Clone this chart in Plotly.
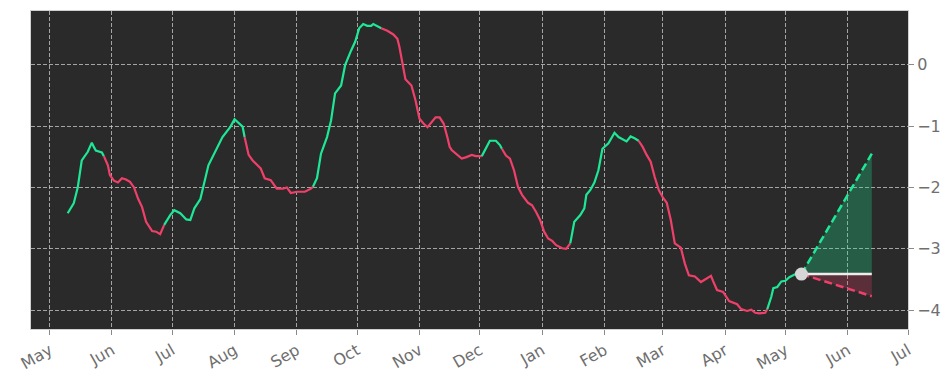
import plotly.graph_objects as go
import pandas as pd

# ---- data ----
dates = [
    "2023-05-10", "2023-05-13", "2023-05-15", "2023-05-17", "2023-05-20", "2023-05-22", "2023-05-23",
    "2023-05-24", "2023-05-27", "2023-05-28", "2023-05-30", "2023-05-31", "2023-06-02", "2023-06-04",
    "2023-06-06", "2023-06-08", "2023-06-10", "2023-06-12", "2023-06-14", "2023-06-16", "2023-06-18",
    "2023-06-21", "2023-06-23", "2023-06-25", "2023-06-27", "2023-06-30", "2023-07-02", "2023-07-05",
    "2023-07-08", "2023-07-10", "2023-07-12", "2023-07-15", "2023-07-19", "2023-07-23", "2023-07-26",
    "2023-07-30", "2023-08-01", "2023-08-05", "2023-08-06", "2023-08-08", "2023-08-10", "2023-08-14",
    "2023-08-16", "2023-08-19", "2023-08-22", "2023-08-25", "2023-08-27", "2023-08-29", "2023-09-01",
    "2023-09-05", "2023-09-08", "2023-09-09", "2023-09-11", "2023-09-13", "2023-09-16", "2023-09-18",
    "2023-09-20", "2023-09-23", "2023-09-25", "2023-09-28", "2023-09-30", "2023-10-02", "2023-10-04",
    "2023-10-06", "2023-10-08", "2023-10-09", "2023-10-11", "2023-10-13", "2023-10-16", "2023-10-19",
    "2023-10-21", "2023-10-22", "2023-10-24", "2023-10-25", "2023-10-28", "2023-10-30", "2023-11-01",
    "2023-11-03", "2023-11-05", "2023-11-07", "2023-11-09", "2023-11-11", "2023-11-13", "2023-11-15",
    "2023-11-16", "2023-11-17", "2023-11-20", "2023-11-22", "2023-11-24", "2023-11-27", "2023-11-29",
    "2023-11-30", "2023-12-02", "2023-12-04", "2023-12-06", "2023-12-09", "2023-12-11", "2023-12-12",
    "2023-12-14", "2023-12-16", "2023-12-18", "2023-12-20", "2023-12-22", "2023-12-25", "2023-12-27",
    "2023-12-29", "2023-12-31", "2024-01-02", "2024-01-04", "2024-01-06", "2024-01-08", "2024-01-11",
    "2024-01-13", "2024-01-15", "2024-01-17", "2024-01-20", "2024-01-22", "2024-01-23", "2024-01-25",
    "2024-01-27", "2024-01-29", "2024-01-31", "2024-02-02", "2024-02-03", "2024-02-06", "2024-02-08",
    "2024-02-12", "2024-02-14", "2024-02-16", "2024-02-18", "2024-02-20", "2024-02-22", "2024-02-24",
    "2024-02-26", "2024-02-28", "2024-03-01", "2024-03-03", "2024-03-05", "2024-03-07", "2024-03-10",
    "2024-03-12", "2024-03-14", "2024-03-17", "2024-03-20", "2024-03-22", "2024-03-25", "2024-03-26",
    "2024-03-28", "2024-03-31", "2024-04-03", "2024-04-07", "2024-04-09", "2024-04-12", "2024-04-14",
    "2024-04-16", "2024-04-18", "2024-04-21", "2024-04-22", "2024-04-24", "2024-04-25", "2024-04-27",
    "2024-04-29", "2024-05-01", "2024-05-03", "2024-05-06", "2024-05-09",
]
values = [
    -2.42, -2.26, -2.00, -1.56, -1.42, -1.27, -1.34,
    -1.40, -1.43, -1.49, -1.64, -1.80, -1.89, -1.92,
    -1.85, -1.87, -1.91, -2.00, -2.18, -2.32, -2.56,
    -2.71, -2.72, -2.76, -2.61, -2.45, -2.37, -2.42,
    -2.52, -2.53, -2.34, -2.19, -1.64, -1.37, -1.18,
    -1.01, -0.89, -1.01, -1.18, -1.47, -1.56, -1.69,
    -1.85, -1.88, -2.02, -2.02, -2.00, -2.09, -2.07,
    -2.07, -2.02, -1.99, -1.85, -1.45, -1.18, -0.91,
    -0.47, -0.34, -0.01, 0.23, 0.37, 0.59, 0.66,
    0.63, 0.63, 0.66, 0.63, 0.59, 0.55, 0.49,
    0.42, 0.29, -0.04, -0.24, -0.34, -0.58, -0.88,
    -0.96, -1.02, -0.93, -0.86, -0.86, -0.96, -1.20,
    -1.34, -1.39, -1.47, -1.53, -1.51, -1.47, -1.49,
    -1.49, -1.49, -1.37, -1.24, -1.24, -1.31, -1.37,
    -1.48, -1.53, -1.72, -1.99, -2.12, -2.25, -2.29,
    -2.40, -2.53, -2.72, -2.83, -2.87, -2.94, -2.99,
    -3.00, -2.91, -2.56, -2.45, -2.34, -2.12, -2.04,
    -1.92, -1.72, -1.37, -1.31, -1.28, -1.11, -1.18,
    -1.25, -1.17, -1.20, -1.24, -1.34, -1.47, -1.58,
    -1.83, -2.04, -2.16, -2.25, -2.53, -2.91, -2.98,
    -3.24, -3.43, -3.45, -3.54, -3.50, -3.44, -3.52,
    -3.67, -3.70, -3.85, -3.90, -3.98, -4.01, -3.99,
    -4.04, -4.05, -4.04, -3.98, -3.78, -3.64, -3.62,
    -3.53, -3.52, -3.46, -3.41, -3.41,
]
# dates where the colour of the line flips
trend_breaks = [
    "2023-05-28", "2023-06-27", "2023-08-06", "2023-09-09", "2023-10-13",
    "2023-12-02", "2023-12-12", "2024-01-15", "2024-02-18", "2024-04-22",
]
forecast_dates = ["2024-05-09", "2024-06-13"]
forecast_high = [-3.41, -1.45]
forecast_mid = [-3.41, -3.41]
forecast_low = [-3.41, -3.77]

month_ticks = pd.date_range("2023-05-01", "2024-07-01", freq="MS")
y_ticks = [0, -1, -2, -3, -4]
y_labels = ["0", "\u22121", "\u22122", "\u22123", "\u22124"]

UP = "#1ee896"
DOWN = "#f0406a"
BG = "#2a2a2a"

dt = pd.to_datetime(dates)
breaks = pd.to_datetime(trend_breaks)

fig = go.Figure()

# forecast fills
fig.add_trace(go.Scatter(
    x=[forecast_dates[0], forecast_dates[1], forecast_dates[1], forecast_dates[0]],
    y=[forecast_mid[0], forecast_high[1], forecast_mid[1], forecast_mid[0]],
    fill="toself", fillcolor="rgba(30,232,150,0.27)", line=dict(width=0),
    mode="lines", hoverinfo="skip", showlegend=False))
fig.add_trace(go.Scatter(
    x=[forecast_dates[0], forecast_dates[1], forecast_dates[1], forecast_dates[0]],
    y=[forecast_mid[0], forecast_mid[1], forecast_low[1], forecast_mid[0]],
    fill="toself", fillcolor="rgba(240,64,106,0.25)", line=dict(width=0),
    mode="lines", hoverinfo="skip", showlegend=False))

# history line, coloured by trend
seg_x, seg_y = [dt[0]], [values[0]]
up = True
bi = 0
for i in range(1, len(dt)):
    seg_x.append(dt[i])
    seg_y.append(values[i])
    if bi < len(breaks) and dt[i] >= breaks[bi]:
        fig.add_trace(go.Scatter(x=seg_x, y=seg_y, mode="lines",
                                 line=dict(color=UP if up else DOWN, width=2.2),
                                 showlegend=False))
        seg_x, seg_y = [dt[i]], [values[i]]
        up = not up
        bi += 1
fig.add_trace(go.Scatter(x=seg_x, y=seg_y, mode="lines",
                         line=dict(color=UP if up else DOWN, width=2.2),
                         showlegend=False))

# forecast lines
fig.add_trace(go.Scatter(x=forecast_dates, y=forecast_high, mode="lines",
                         line=dict(color=UP, width=2.5, dash="8px,4px"), showlegend=False))
fig.add_trace(go.Scatter(x=forecast_dates, y=forecast_low, mode="lines",
                         line=dict(color=DOWN, width=2.5, dash="8px,4px"), showlegend=False))
fig.add_trace(go.Scatter(x=forecast_dates, y=forecast_mid, mode="lines",
                         line=dict(color="#ececec", width=2.5), showlegend=False))
fig.add_trace(go.Scatter(x=[forecast_dates[0]], y=[forecast_mid[0]], mode="markers",
                         marker=dict(color="#d6d6d6", size=13), showlegend=False))

axis_font = dict(family="DejaVu Sans", size=16, color="#6f6f6f")
fig.update_layout(
    width=952, height=381,
    margin=dict(l=31, r=44, t=11, b=52),
    paper_bgcolor="white", plot_bgcolor=BG,
    xaxis=dict(
        type="date", automargin=False,
        range=["2023-04-21 18:00", "2024-07-01"],
        tickvals=list(month_ticks), tickformat="%b", tickangle=-30,
        tickfont=axis_font,
        ticks="outside", ticklen=5, tickcolor="#8a8a8a",
        showgrid=True, gridcolor="rgba(205,205,205,0.75)", gridwidth=1, griddash="4px,2px",
        showline=True, linecolor="#cfcfcf", linewidth=1, mirror=True,
        zeroline=False,
    ),
    yaxis=dict(
        side="right", automargin=False,
        range=[-4.304, 0.872],
        tickvals=y_ticks, ticktext=y_labels,
        tickfont=axis_font,
        ticks="outside", ticklen=5, tickcolor="#8a8a8a",
        showgrid=True, gridcolor="rgba(205,205,205,0.75)", gridwidth=1, griddash="4px,2px",
        showline=True, linecolor="#cfcfcf", linewidth=1, mirror=True,
        zeroline=False,
    ),
)

fig.write_html("out.html", config={"displayModeBar": False},
               post_script="document.body.style.margin='0';")
